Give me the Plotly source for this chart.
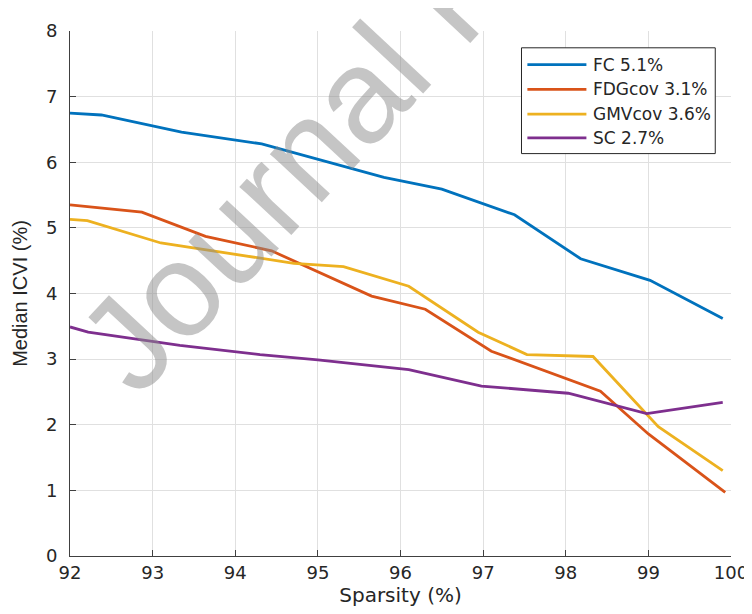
import plotly.graph_objects as go

# ---- data ----
series_names = ["FC 5.1%", "FDGcov 3.1%", "GMVcov 3.6%", "SC 2.7%"]
series_colors = ["#0072BD", "#D95319", "#EDB120", "#7E2F8E"]

fc_x = [92.0, 92.38, 93.35, 94.32, 95.8, 96.5, 97.38, 98.18, 99.02, 99.9]
fc_y = [6.75, 6.72, 6.46, 6.28, 5.77, 5.59, 5.20, 4.53, 4.20, 3.62]

fdg_x = [92.0, 92.87, 93.64, 94.44, 95.65, 96.3, 97.1, 98.42, 99.0, 99.93]
fdg_y = [5.35, 5.24, 4.87, 4.65, 3.96, 3.76, 3.12, 2.51, 1.86, 0.97]

gmv_x = [92.0, 92.21, 93.1, 94.71, 95.31, 96.1, 96.94, 97.53, 98.33, 99.12, 99.9]
gmv_y = [5.13, 5.11, 4.77, 4.46, 4.41, 4.11, 3.41, 3.07, 3.04, 1.97, 1.30]

sc_x = [92.0, 92.22, 93.33, 94.3, 95.0, 96.1, 96.98, 98.03, 98.98, 99.9]
sc_y = [3.49, 3.41, 3.21, 3.07, 2.99, 2.84, 2.59, 2.48, 2.17, 2.34]

x_ticks = [92, 93, 94, 95, 96, 97, 98, 99, 100]
y_ticks = [0, 1, 2, 3, 4, 5, 6, 7, 8]

xs = [fc_x, fdg_x, gmv_x, sc_x]
ys = [fc_y, fdg_y, gmv_y, sc_y]

# ---- layout geometry (pixels) ----
W, H = 752, 614
ML, MR, MT, MB = 62, 18, 17, 66
PW, PH = W - ML - MR, H - MT - MB


def px(xp):
    return (xp - ML) / PW


def py(yp):
    return (H - MB - yp) / PH


fig = go.Figure()
for x, y, name, col in zip(xs, ys, series_names, series_colors):
    fig.add_trace(go.Scatter(x=x, y=y, mode="lines", name=name,
                             line=dict(color=col, width=2.8),
                             showlegend=False))

axis_col = "#404040"
tick_font = dict(family="DejaVu Sans", size=18, color="#262626")

fig.update_layout(
    width=W, height=H,
    margin=dict(l=ML, r=MR, t=MT, b=MB),
    paper_bgcolor="white", plot_bgcolor="white",
    xaxis=dict(range=[92, 100], tickvals=x_ticks, ticktext=[str(t) for t in x_ticks],
               showgrid=True, gridcolor="#e0e0e0", gridwidth=1,
               showline=True, linecolor=axis_col, linewidth=1,
               ticks="inside", ticklen=6, tickcolor=axis_col,
               tickfont=tick_font, zeroline=False,
               title=dict(text="Sparsity (%)", standoff=6,
                          font=dict(family="DejaVu Sans", size=20, color="#262626"))),
    yaxis=dict(range=[0, 8], tickvals=y_ticks, ticktext=[str(t) for t in y_ticks],
               showgrid=True, gridcolor="#e0e0e0", gridwidth=1,
               showline=True, linecolor=axis_col, linewidth=1,
               ticks="inside", ticklen=6, tickcolor=axis_col,
               tickfont=tick_font, zeroline=False, ticklabelstandoff=8,
               title=dict(text="Median ICVI (%)", standoff=12,
                          font=dict(family="Liberation Sans", size=20, color="#262626"))),
)

# ---- legend box drawn manually (MATLAB style) ----
shapes = [dict(type="rect", xref="paper", yref="paper",
               x0=px(521), x1=px(718), y0=py(141), y1=py(34),
               line=dict(color="#262626", width=1), fillcolor="white", layer="above")]
annotations = []
row_y = [51, 76, 101, 125]
for name, col, ry in zip(series_names, series_colors, row_y):
    shapes.append(dict(type="line", xref="paper", yref="paper",
                       x0=px(527), x1=px(587), y0=py(ry), y1=py(ry),
                       line=dict(color=col, width=2.8), layer="above"))
    annotations.append(dict(text=name, xref="paper", yref="paper",
                            x=px(592), y=py(ry), xanchor="left", yanchor="middle",
                            showarrow=False,
                            font=dict(family="DejaVu Sans", size=17, color="#262626")))

# ---- watermark ----
annotations.append(dict(text="Journal Pre-proof", xref="paper", yref="paper",
                        x=px(455), y=py(-25), xanchor="center", yanchor="middle",
                        showarrow=False, textangle=-47,
                        font=dict(family="Liberation Sans", size=134,
                                  color="rgba(140,140,140,0.5)")))

fig.update_layout(shapes=shapes, annotations=annotations)

fig.write_html("out.html")
